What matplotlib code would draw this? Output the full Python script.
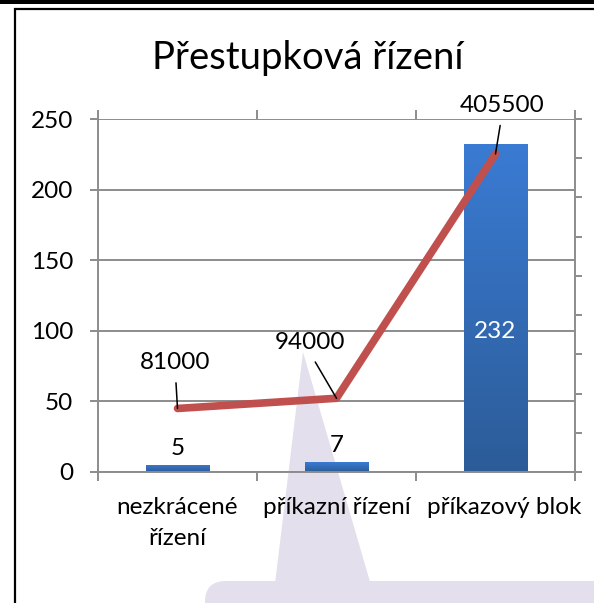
import numpy as np
import matplotlib
matplotlib.use("Agg")
from matplotlib import pyplot as plt
from matplotlib.patches import Polygon, FancyBboxPatch, Rectangle
from matplotlib.lines import Line2D
from matplotlib.colors import LinearSegmentedColormap
from matplotlib.transforms import offset_copy

# data
categories = ["nezkrácené\nřízení", "příkazní řízení", "příkazový blok"]
counts = [5, 7, 232]
amounts = [81000, 94000, 405500]
chart_title = "Přestupková řízení"

plt.rcParams['font.family'] = ['Lato', 'DejaVu Sans']

W, H = 594, 603
fig = plt.figure(figsize=(W / 100, H / 100), dpi=100)


def fx(px):
    return px / W


def fy(py):
    return 1 - py / H


fs = 17.5
grid_col = '#8c8c8c'
ax = fig.add_axes([fx(98), fy(472), fx(575) - fx(98), fy(119) - fy(472)])
ax.set_facecolor('none')

x = np.arange(len(categories))
bars = ax.bar(x, counts, width=0.4, color='#3572c6', zorder=2)
ax.set_xlim(-0.5, len(categories) - 0.5)
ax.set_ylim(0, 250)
ax.set_autoscale_on(False)

# vertical gradient in the bars
cmap = LinearSegmentedColormap.from_list('barblue', ['#2c5c98', '#3a7bd3'])
grad = np.linspace(0, 1, 256).reshape(-1, 1)
for b in bars:
    im = ax.imshow(grad, cmap=cmap, origin='lower', aspect='auto', zorder=2,
                   extent=[b.get_x(), b.get_x() + b.get_width(), 0, b.get_height()])
    im.set_clip_path(b)

ax.set_yticks(np.arange(0, 251, 50))
ax.yaxis.grid(True, color=grid_col, lw=1.4, zorder=1)
ax.set_axisbelow(True)
ax.tick_params(axis='y', length=5.8, width=1.4, color=grid_col, labelsize=fs, pad=12)

ax.set_xticks(x)
ax.set_xticklabels(categories, fontsize=fs, linespacing=1.6)
ax.set_xticks(np.arange(-0.5, len(categories), 1), minor=True)
ax.tick_params(axis='x', which='major', length=0, pad=18)
ax.tick_params(axis='x', which='minor', length=6.5, width=1.4, color=grid_col,
               top=True, bottom=True, direction='out')
# last label sits a bit to the right in the original
last = ax.get_xticklabels()[-1]
last.set_transform(offset_copy(last.get_transform(), fig=fig, x=9, y=0, units='dots'))
ax.spines['top'].set_visible(False)
ax.spines['right'].set_visible(False)
for s in ['left', 'bottom']:
    ax.spines[s].set_color(grid_col)
    ax.spines[s].set_linewidth(1.4)

# bar value labels
for i, c in enumerate(counts):
    if c > 100:
        ax.text(i, c * 0.43, str(c), ha='center', va='center', color='white', fontsize=fs, zorder=5)
    else:
        ax.text(i, c + 11.5, str(c), ha='center', va='center', color='black', fontsize=fs, zorder=5)

# secondary axis with the line
ax2 = ax.twinx()
ax2.set_facecolor('none')
ax2.set_ylim(0, 450000)
ax2.set_yticks(np.arange(0, 450001, 50000))
ax2.set_yticklabels([])
ax2.tick_params(axis='y', length=5, width=1.4, color=grid_col)
for s in ['left', 'top', 'bottom']:
    ax2.spines[s].set_visible(False)
ax2.spines['right'].set_color(grid_col)
ax2.spines['right'].set_linewidth(1.4)
ax2.plot(x, amounts, color='#c0504d', lw=5.5, solid_capstyle='round',
         solid_joinstyle='round', zorder=3)

offsets = [(-1.5, 33), (-19, 40), (4.5, 35)]
for i, (a, off) in enumerate(zip(amounts, offsets)):
    ax2.annotate(str(a), xy=(i, a), xytext=off, textcoords='offset points',
                 ha='center', va='center', fontsize=fs,
                 arrowprops=dict(arrowstyle='-', color='black', lw=1.1,
                                 relpos=(0.5, 0), shrinkA=5, shrinkB=0))

fig.text(fx(308), fy(58), chart_title, ha='center', va='center', fontsize=27.5)

# lavender callout shape behind the chart
tri = Polygon([[fx(303), fy(352)], [fx(274), fy(592)], [fx(373), fy(592)]],
              closed=True, transform=fig.transFigure, facecolor='#e3dfec',
              edgecolor='none', zorder=-1)
fig.patches.append(tri)
box = FancyBboxPatch((fx(205), fy(640)), fx(440), fy(581) - fy(640),
                     boxstyle='round,pad=0,rounding_size=0.035',
                     transform=fig.transFigure, facecolor='#e3dfec',
                     edgecolor='none', zorder=-1)
fig.patches.append(box)

# frame lines
fig.patches.append(Rectangle((0, fy(4)), 1, fy(0) - fy(4), transform=fig.transFigure,
                             facecolor='black', edgecolor='none', zorder=10))
fig.lines.append(Line2D([fx(15), fx(15), 1], [0, fy(9), fy(9)], transform=fig.transFigure,
                        color='black', lw=1.6, solid_joinstyle='miter', zorder=10))

fig.savefig('out.png', dpi=100)
